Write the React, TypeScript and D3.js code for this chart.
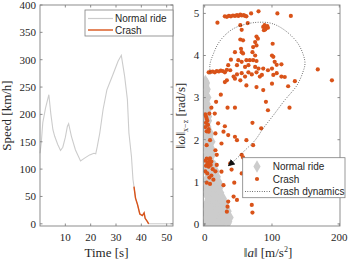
import React from "react";
import * as d3 from "d3";

// ---------- Left panel: speed over time ----------
const speedTime = [0, 0.5, 1.1, 2.2, 3.5, 4.3, 5.1, 5.8, 7.0, 8.1, 9.0, 10.0, 10.8, 11.3, 12.4, 14.0, 16.0, 17.6, 19.6, 21.3, 22.0, 22.6, 23.6, 24.9, 26.4, 28.8, 30.8, 32.1, 33.4, 34.5, 35.1, 36.1, 36.7, 37.1, 37.7, 38.5, 39.4, 40.4, 41.1, 41.5, 42.4, 42.9, 52.5];
const speedValue = [129, 148, 185, 212, 236, 200, 172, 160, 145, 134, 140, 158, 178, 183, 160, 135, 115, 120, 126, 129, 128, 141, 166, 209, 245, 273, 297, 308, 270, 227, 166, 123, 81, 68, 47, 35, 18, 15, 20, 10, 4, 0, 0];
const crashTime = [37.1, 37.7, 38.5, 39.4, 40.4, 41.1, 41.5, 42.4, 42.9];
const crashSpeed = [68, 47, 35, 18, 15, 20, 10, 4, 0];
const speedTicks = [0, 50, 100, 150, 200, 250, 300, 350, 400];
const timeTicks = [10, 20, 30, 40, 50];

// ---------- Right panel: |a| vs |omega| ----------
const crashAcc = [30, 33, 36, 39, 42, 45, 48, 50, 53, 55, 58, 60, 62, 69, 80, 108, 128, 19,
  87, 89, 91, 93, 90, 88, 94, 64, 53, 55,
  77, 79, 75, 53, 57, 54, 77, 72, 71, 75, 101, 45, 55, 57, 100, 102,
  39, 50, 55, 62, 67, 72, 77, 104, 107, 114,
  35, 48, 60, 65, 75, 80, 87, 100, 94,
  6, 9, 12, 15, 18, 21, 24, 27, 30, 33,
  38, 43, 45, 48, 55, 60, 65, 70, 53, 77, 82, 85,
  102, 107, 114, 119, 30, 33, 134, 168, 189,
  62, 77, 87, 100, 124,
  24, 17, 10, 34, 45, 91, 126, 94,
  1, 2, 3, 4, 2, 5, 1, 6, 3, 7,
  15, 20, 30, 71, 84,
  6, 16, 28, 35, 45, 48, 25, 8, 3, 62, 72,
  16, 18, 55, 57,
  1, 3, 5, 7, 9, 2, 4, 6, 10, 8,
  18, 38, 40,
  1, 4, 7, 10, 13, 16, 3, 8, 12,
  25, 28, 44, 55,
  43, 35, 34, 48, 70, 71, 33];
const crashOmega = [4.93, 4.92, 4.94, 4.93, 4.95, 4.94, 4.96, 4.94, 4.97, 4.95, 4.96, 4.94, 4.93, 5.0, 5.05, 5.0, 4.94, 4.78,
  4.68, 4.72, 4.65, 4.7, 4.62, 4.6, 4.66, 4.77, 4.72, 4.61,
  4.45, 4.4, 4.32, 4.38, 4.36, 4.16, 4.24, 4.2, 4.08, 4.0, 4.28, 4.08, 4.08, 4.05, 4.0, 3.97,
  3.9, 3.89, 3.85, 3.89, 3.89, 3.89, 3.87, 3.85, 3.78, 3.79,
  3.77, 3.77, 3.73, 3.77, 3.73, 3.69, 3.69, 3.69, 3.65,
  3.6, 3.61, 3.62, 3.6, 3.63, 3.62, 3.64, 3.63, 3.6, 3.66,
  3.65, 3.5, 3.45, 3.55, 3.58, 3.5, 3.6, 3.55, 3.41, 3.6, 3.5, 3.54,
  3.54, 3.58, 3.5, 3.49, 3.37, 3.41, 3.39, 3.67, 3.41,
  3.29, 3.25, 3.18, 3.33, 3.27,
  3.07, 2.9, 2.76, 2.76, 2.76, 2.9, 2.76, 2.7,
  2.6, 2.55, 2.5, 2.45, 2.4, 2.35, 2.3, 2.25, 2.2, 2.62,
  2.62, 2.39, 2.32, 2.4, 2.27,
  2.19, 2.15, 2.19, 2.11, 2.07, 1.99, 1.91, 1.99, 1.87, 1.99, 1.87,
  1.75, 1.64, 1.64, 1.58,
  1.5, 1.55, 1.45, 1.52, 1.4, 1.38, 1.42, 1.36, 1.48, 1.56,
  1.4, 1.44, 1.29,
  1.25, 1.2, 1.1, 1.15, 1.05, 1.25, 0.98, 0.95, 1.3,
  1.24, 0.92, 0.98, 1.2,
  0.65, 0.53, 0.41, 0.57, 0.45, 0.27, 0.29];

const normalAcc = [1, 3, 2, 4, 1, 3, 5, 2, 4, 1, 3, 5, 2, 4, 6, 1, 3, 5,
  2, 6, 9, 1, 4, 8, 11, 2, 6, 10, 3, 7, 12, 1, 5, 9,
  3, 12, 15, 7, 1, 10, 17, 4, 13, 19, 8, 2, 15, 21, 11, 5, 18, 24, 9, 1, 14, 20,
  4, 11, 17, 24, 2, 8, 14, 21, 28, 5, 11, 18, 25, 31, 1, 8, 15, 22, 29, 4, 12, 19, 26, 33,
  1, 7, 13, 20, 27, 34, 38, 4, 10, 17, 24, 31, 36, 2, 8, 15, 22, 29, 0.5, 6, 12, 19, 26,
  2, 3, 2, 4, 6, 5, 8, 6, 3, 9, 7, 5, 10, 14, 6, 12, 16, 9, 14, 4, 20, 7, 17, 23, 13, 27, 10, 19, 30, 16, 35, 6, 23, 32, 14, 28, 9, 35, 20];
const normalOmega = [3.4, 3.35, 3.25, 3.2, 3.1, 3.05, 3.0, 2.95, 2.85, 2.8, 2.75, 2.7, 2.6, 2.5, 2.45, 2.4, 2.35, 2.3,
  2.25, 2.2, 2.15, 2.1, 2.05, 2.0, 1.95, 1.9, 1.85, 1.8, 1.75, 1.7, 1.65, 1.6, 1.55, 1.5,
  1.45, 1.42, 1.38, 1.35, 1.3, 1.28, 1.25, 1.2, 1.18, 1.12, 1.1, 1.05, 1.05, 1.0, 0.98, 0.95, 0.92, 0.9, 0.88, 0.85, 0.83, 0.8,
  0.78, 0.75, 0.72, 0.74, 0.7, 0.68, 0.65, 0.62, 0.6, 0.58, 0.55, 0.52, 0.5, 0.48, 0.45, 0.44, 0.42, 0.4, 0.38, 0.35, 0.33, 0.31, 0.3, 0.32,
  0.25, 0.24, 0.22, 0.2, 0.22, 0.2, 0.15, 0.15, 0.14, 0.12, 0.13, 0.1, 0.06, 0.06, 0.05, 0.04, 0.05, 0.03, 0.01, 0.0, 0.01, 0.0, 0.01,
  3.3, 3.15, 2.9, 2.65, 2.55, 2.2, 2.1, 1.95, 1.8, 1.7, 1.5, 1.4, 1.33, 1.3, 1.15, 1.1, 1.0, 0.95, 0.9, 0.82, 0.7, 0.6, 0.62, 0.6, 0.5, 0.55, 0.38, 0.4, 0.42, 0.28, 0.3, 0.3, 0.34, 0.18, 0.08, 0.12, 0.1, 0.02, 0.03];

const dynAcc = [8, 8, 13, 20, 30, 43, 60, 80, 100, 119, 137, 146, 149, 146, 137, 119, 102, 87, 75, 60, 48, 36];
const dynOmega = [3.55, 3.8, 4.04, 4.28, 4.48, 4.64, 4.74, 4.79, 4.76, 4.6, 4.32, 4.04, 3.81, 3.61, 3.29, 2.94, 2.58, 2.27, 1.99, 1.75, 1.56, 1.39];

const accTicks = [0, 100, 200];
const omegaTicks = [0, 1, 2, 3, 4, 5];

const ORANGE = "#D95319";
const GRAY = "#CCCCCC";
const AXIS = "#808080";
const TXT = "#262626";
const SERIF = "'Liberation Serif', 'DejaVu Serif', serif";
const SANS = "'Liberation Sans', Arial, sans-serif";

function Frame({ x0, x1, y0, y1, xs, ys, xt, yt }: any) {
  const tl = 2.5;
  return (
    <g>
      <rect x={x0} y={y0} width={x1 - x0} height={y1 - y0} fill="none" stroke={AXIS} strokeWidth={0.9} />
      {xt.map((t: number) => (
        <g key={"x" + t}>
          <line x1={xs(t)} x2={xs(t)} y1={y1} y2={y1 - tl} stroke={AXIS} strokeWidth={0.9} />
          <line x1={xs(t)} x2={xs(t)} y1={y0} y2={y0 + tl} stroke={AXIS} strokeWidth={0.9} />
          <text x={xs(t)} y={y1 + 15} textAnchor="middle" fontFamily={SERIF} fontSize={11} fill={TXT}>{t}</text>
        </g>
      ))}
      {yt.map((t: number) => (
        <g key={"y" + t}>
          <line x1={x0} x2={x0 + tl} y1={ys(t)} y2={ys(t)} stroke={AXIS} strokeWidth={0.9} />
          <line x1={x1} x2={x1 - tl} y1={ys(t)} y2={ys(t)} stroke={AXIS} strokeWidth={0.9} />
          <text x={x0 - 4} y={ys(t) + 3.8} textAnchor="end" fontFamily={SERIF} fontSize={11} fill={TXT}>{t}</text>
        </g>
      ))}
    </g>
  );
}

export default function App() {
  const lx = d3.scaleLinear().domain([0, 52.5]).range([40, 173]);
  const ly = d3.scaleLinear().domain([-4, 400]).range([226, 5]);
  const rx = d3.scaleLinear().domain([-2, 201]).range([203.3, 340]);
  const ry = d3.scaleLinear().domain([-0.05, 5.2]).range([226, 5]);

  const speedPts: [number, number][] = speedTime.map((t, i) => [t, speedValue[i]]);
  const crashPts: [number, number][] = crashTime.map((t, i) => [t, crashSpeed[i]]);
  const lline = d3.line<[number, number]>().x((d) => lx(d[0])).y((d) => ly(d[1]));

  const dynPts: [number, number][] = dynAcc.map((a, i) => [a, dynOmega[i]]);
  const dline = d3.line<[number, number]>().x((d) => rx(d[0])).y((d) => ry(d[1])).curve(d3.curveCatmullRom);
  const diamond = d3.symbol().type(d3.symbolDiamond).size(42)();

  return (
    <svg width={349} height={260} style={{ position: "absolute", left: 0, top: 0, background: "#fff" }}>
      <defs>
        <marker id="arr" viewBox="0 0 10 10" refX="8" refY="5" markerWidth="7" markerHeight="7" orient="auto" markerUnits="userSpaceOnUse">
          <path d="M0,0 L10,5 L0,10 z" fill="#111" />
        </marker>
        <clipPath id="rclip"><rect x={203.3} y={5} width={136.7} height={221} /></clipPath>
      </defs>

      {/* Left panel */}
      <path d={lline(speedPts) || ""} fill="none" stroke={GRAY} strokeWidth={1.1} />
      <path d={lline(crashPts) || ""} fill="none" stroke={ORANGE} strokeWidth={1.4} />
      <Frame x0={40} x1={173} y0={5} y1={226} xs={lx} ys={ly} xt={timeTicks} yt={speedTicks} />
      <g>
        <rect x={85} y={10} width={88} height={26} fill="#fff" stroke={AXIS} strokeWidth={0.8} />
        <line x1={88} x2={113} y1={18.5} y2={18.5} stroke={GRAY} strokeWidth={1.2} />
        <text x={115} y={22} fontFamily={SANS} fontSize={10} fill={TXT}>Normal ride</text>
        <line x1={88} x2={113} y1={30} y2={30} stroke={ORANGE} strokeWidth={1.4} />
        <text x={115} y={33.5} fontFamily={SANS} fontSize={10} fill={TXT}>Crash</text>
      </g>
      <text x={106.5} y={257} textAnchor="middle" fontFamily={SERIF} fontSize={13} fill={TXT}>Time [s]</text>
      <text transform="translate(11,115.5) rotate(-90)" textAnchor="middle" fontFamily={SERIF} fontSize={13} fill={TXT}>Speed [km/h]</text>

      {/* Right panel */}
      <g clipPath="url(#rclip)">
        {normalAcc.map((a, i) => (
          <path key={"g" + i} d={diamond || ""} transform={`translate(${rx(a)},${ry(normalOmega[i])})`} fill={GRAY} />
        ))}
        {crashAcc.map((a, i) => (
          <circle key={"c" + i} cx={rx(a)} cy={ry(crashOmega[i])} r={2.1} fill={ORANGE} />
        ))}
        <path d={dline(dynPts) || ""} fill="none" stroke="#222" strokeWidth={0.8} strokeDasharray="0.8,1.6" markerEnd="url(#arr)" />
      </g>
      <Frame x0={203.3} x1={340} y0={5} y1={226} xs={rx} ys={ry} xt={accTicks} yt={omegaTicks} />
      <g>
        <rect x={242.7} y={157.7} width={102.3} height={40} fill="#fff" stroke={AXIS} strokeWidth={0.8} />
        <path d={d3.symbol().type(d3.symbolDiamond).size(45)() || ""} transform="translate(257,166.5)" fill={GRAY} />
        <text x={272.7} y={170} fontFamily={SANS} fontSize={10} fill={TXT}>Normal ride</text>
        <circle cx={257} cy={179} r={2.1} fill={ORANGE} />
        <text x={272.7} y={182.5} fontFamily={SANS} fontSize={10} fill={TXT}>Crash</text>
        <line x1={245} x2={270} y1={191.5} y2={191.5} stroke="#222" strokeWidth={0.8} strokeDasharray="0.8,1.6" />
        <text x={272.7} y={195} fontFamily={SANS} fontSize={10} fill={TXT}>Crash dynamics</text>
      </g>
      <text x={268} y={257} textAnchor="middle" fontFamily={SERIF} fontSize={13} fill={TXT}>
        ‖<tspan fontStyle="italic">a</tspan>‖ [m/s<tspan fontSize={8} dy={-5}>2</tspan><tspan dy={5}>]</tspan>
      </text>
      <text transform="translate(185,115.5) rotate(-90)" textAnchor="middle" fontFamily={SERIF} fontSize={13} fill={TXT}>
        ‖<tspan fontStyle="italic">ω</tspan>‖<tspan fontSize={8} dy={3}>x−z</tspan><tspan dy={-3}> [rad/s]</tspan>
      </text>
    </svg>
  );
}
